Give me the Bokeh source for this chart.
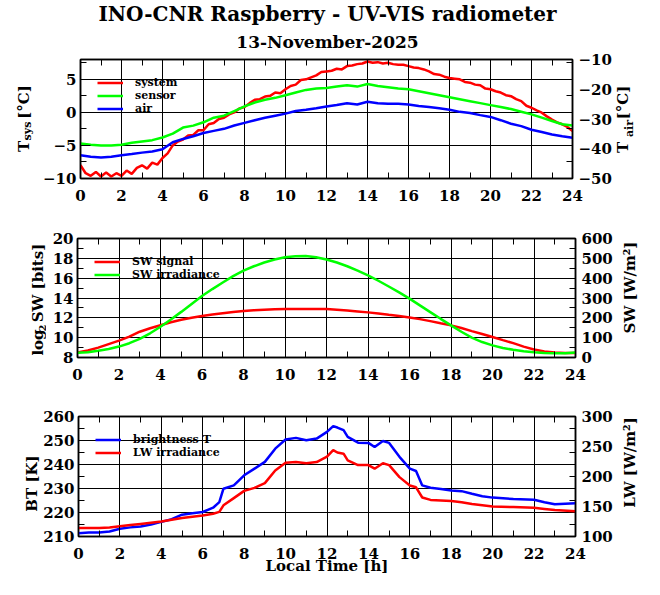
from math import pi
from bokeh.plotting import figure
from bokeh.models import Range1d, LinearAxis, FixedTicker, Label, Grid
from bokeh.layouts import column, row
from bokeh.embed import file_html
from bokeh.resources import INLINE

FONT = "DejaVu Serif"

# ---------------- data ----------------
hours_quarter = [i * 0.25 for i in range(97)]
hours_half = [i * 0.5 for i in range(49)]

t_system = [-8.0, -9.2, -9.6, -9.0, -9.7, -9.1, -9.7, -9.2, -9.6, -8.8,
            -9.3, -8.4, -8.0, -8.5, -7.6, -7.9, -6.9, -6.2, -5.0, -4.4,
            -4.1, -3.5, -3.4, -2.7, -2.7, -1.8, -1.6, -1.0, -0.8, -0.3,
            0.0, 0.6, 0.8, 1.4, 1.9, 2.0, 2.4, 2.5, 3.0, 2.9,
            3.5, 4.0, 4.2, 4.9, 5.0, 5.3, 5.6, 6.1, 6.2, 6.3,
            6.6, 6.5, 7.0, 7.1, 7.3, 7.4, 7.7, 7.5, 7.6, 7.4,
            7.5, 7.3, 7.2, 7.2, 7.0, 6.8, 6.7, 6.5, 6.2, 5.8,
            5.7, 5.4, 5.2, 5.1, 5.0, 4.6, 4.5, 4.2, 4.1, 3.6,
            3.5, 3.2, 3.0, 2.6, 2.45, 2.0, 1.7, 1.0, 0.7, 0.3,
            -0.05, -0.6, -1.1, -1.5, -1.8, -2.2, -2.8]

t_sensor = [-4.7, -4.9, -5.0, -5.0, -4.9, -4.6, -4.4, -4.2, -3.8, -3.2,
            -2.3, -2.0, -1.5, -0.8, -0.5, 0.2, 0.9, 1.5, 1.9, 2.2,
            2.6, 3.0, 3.4, 3.6, 3.7, 3.9, 4.1, 3.9, 4.3, 4.0,
            3.8, 3.6, 3.5, 3.2, 2.9, 2.6, 2.3, 2.0, 1.7, 1.4,
            1.1, 0.8, 0.5, 0.1, -0.3, -0.8, -1.3, -1.8, -2.0]

t_air = [-42.2, -42.7, -42.9, -42.7, -42.2, -41.8, -41.3, -40.9, -40.2, -37.8,
         -36.7, -35.8, -34.7, -34.0, -33.3, -32.2, -31.3, -30.4, -29.6, -28.9,
         -28.2, -27.3, -26.9, -26.4, -25.8, -25.3, -24.7, -25.1, -24.2, -24.7,
         -24.9, -24.9, -25.1, -25.6, -26.0, -26.4, -26.9, -27.6, -28.0, -28.7,
         -29.3, -30.4, -31.6, -32.4, -33.6, -34.4, -35.2, -35.8, -36.3]

sw_signal = [8.5, 8.7, 9.0, 9.35, 9.7, 10.1, 10.6, 10.95, 11.25, 11.55,
             11.8, 12.0, 12.18, 12.33, 12.47, 12.58, 12.68, 12.76, 12.82, 12.87,
             12.89, 12.9, 12.9, 12.9, 12.88, 12.82, 12.75, 12.65, 12.55, 12.43,
             12.3, 12.18, 12.04, 11.87, 11.67, 11.45, 11.24, 10.97, 10.66, 10.37,
             10.06, 9.75, 9.45, 9.1, 8.8, 8.6, 8.5, 8.45, 8.45]

sw_irradiance = [24, 27, 34, 43, 55, 72, 94, 122, 155, 192,
                 230, 270, 310, 345, 378, 410, 438, 460, 479, 494,
                 505, 511, 512, 505, 494, 479, 460, 438, 414, 387,
                 358, 328, 297, 263, 229, 195, 162, 130, 100, 78,
                 61, 48, 39, 32, 27, 23, 22, 22, 25]

hours_lw = [0, 0.5, 1, 1.5, 2, 2.5, 3, 3.5, 4, 4.5, 5, 5.5, 6, 6.5, 6.8,
            7, 7.5, 8, 8.5, 9, 9.5, 10, 10.5, 11, 11.5, 12, 12.3, 12.5, 12.8,
            13, 13.5, 14, 14.3, 14.7, 15, 15.5, 16, 16.3, 16.6,
            17, 17.5, 18, 18.5, 19, 19.5, 20, 21, 22, 22.5, 23, 24]

bright_t = [211.4, 211.7, 211.7, 212.1, 213.2, 213.8, 214.2, 215.0, 216.1, 217.2,
            219.1, 219.7, 220.2, 222.0, 224.3, 229.9, 231.3, 235.5, 238.3, 241.1,
            246.6, 250.4, 251.1, 250.1, 250.8, 253.6, 256.0, 255.4, 254.3, 251.5,
            249.1, 249.0, 247.3, 249.8, 249.0, 243.2, 238.3, 237.3, 231.3, 230.3,
            229.8, 229.2, 228.9, 227.8, 226.8, 226.2, 225.6, 225.3, 224.3, 223.4, 223.9]

lw_irradiance = [114, 114, 114, 115, 117, 119, 121, 123, 125, 128,
                 131, 133, 135, 138, 141, 152, 164, 176, 181, 189,
                 210, 223, 224, 222, 224, 233, 244, 240, 238, 227,
                 219, 219, 213, 222, 219, 199, 185, 182, 165, 161,
                 160, 159, 157, 154, 152, 150, 149, 148, 146, 144, 142]

x_ticks = [0, 2, 4, 6, 8, 10, 12, 14, 16, 18, 20, 22, 24]
x_minor = [1, 3, 5, 7, 9, 11, 13, 15, 17, 19, 21, 23]

FRAME_X0, FRAME_W = 77, 500
TOTAL_W = 657
LW = 2.5


def style_axis(ax, standoff):
    ax.axis_line_color = "black"
    ax.axis_line_width = 1.5
    ax.major_tick_in = 10
    ax.major_tick_out = 0
    ax.minor_tick_in = 6
    ax.minor_tick_out = 0
    ax.major_tick_line_color = "black"
    ax.minor_tick_line_color = "black"
    ax.major_label_text_font = FONT
    ax.major_label_text_font_style = "bold"
    ax.major_label_text_font_size = "15px"
    ax.major_label_text_color = "black"
    ax.major_label_standoff = standoff


def panel(bl, br, top, fh, bottom, ylim, yticks, yminor, rlim, rticks):
    p = figure(width=bl + FRAME_W + br, height=top + fh + bottom,
               x_range=Range1d(0, 24), y_range=Range1d(*ylim),
               output_backend="svg", toolbar_location=None,
               min_border_left=bl, min_border_right=br,
               min_border_top=top, min_border_bottom=bottom,
               x_axis_type=None, y_axis_type=None)
    p.extra_y_ranges = {"r": Range1d(*rlim)}
    p.outline_line_color = "black"
    p.outline_line_width = 1.5
    p.background_fill_color = "white"
    p.border_fill_color = "white"

    xt = FixedTicker(ticks=x_ticks, minor_ticks=x_minor)
    yt = FixedTicker(ticks=yticks, minor_ticks=yminor)
    p.add_layout(Grid(dimension=0, ticker=xt, grid_line_color="black", grid_line_width=1))
    p.add_layout(Grid(dimension=1, ticker=yt, grid_line_color="black", grid_line_width=1))

    xb = LinearAxis(ticker=xt)
    style_axis(xb, 11)
    p.add_layout(xb, "below")
    xa = LinearAxis(ticker=FixedTicker(ticks=x_ticks, minor_ticks=x_minor),
                    major_label_overrides={t: "" for t in x_ticks})
    style_axis(xa, 0)
    xa.major_label_text_font_size = "0px"
    p.add_layout(xa, "above")
    yl = LinearAxis(ticker=yt)
    style_axis(yl, 4)
    p.add_layout(yl, "left")
    scale = (rlim[1] - rlim[0]) / (ylim[1] - ylim[0])
    r_minor = [rlim[0] + (m - ylim[0]) * scale for m in yminor]
    yr = LinearAxis(y_range_name="r", ticker=FixedTicker(ticks=rticks, minor_ticks=r_minor))
    style_axis(yr, 6)
    yr.major_tick_in = 0
    p.add_layout(yr, "right")
    return p, xb


def text_fig(x0, w, top, fh, bottom, page_top, bl=0, br=0):
    """A blank figure whose data coordinates are the picture's pixel coordinates.
    Its frame has the same vertical extent as the panel frame it sits next to."""
    f = figure(width=w, height=top + fh + bottom,
               x_range=Range1d(x0 + bl, x0 + w - br),
               y_range=Range1d(page_top + fh, page_top),
               output_backend="svg", toolbar_location=None,
               min_border_left=bl, min_border_right=br,
               min_border_top=top, min_border_bottom=bottom,
               x_axis_type=None, y_axis_type=None)
    f.outline_line_color = None
    f.background_fill_color = "white"
    f.border_fill_color = "white"
    return f


def put(f, x, y, text, size, angle=0.0):
    f.add_layout(Label(x=x, y=y, text=text, angle=angle, text_font=FONT,
                       text_font_style="bold", text_font_size=f"{size}px",
                       text_color="black", text_align="center", text_baseline="middle"))


def style_legend(p):
    lg = p.legend[0]
    lg.location = "top_left"
    lg.margin = 0
    lg.padding = 17
    lg.spacing = 0
    lg.glyph_width = 26
    lg.glyph_height = 13
    lg.label_height = 13
    lg.label_standoff = 12
    lg.label_text_font = FONT
    lg.label_text_font_style = "bold"
    lg.label_text_font_size = "11px"
    lg.label_text_color = "black"
    lg.border_line_alpha = 0
    lg.background_fill_alpha = 0


V = pi / 2

# ---------------- title ----------------
title_fig = text_fig(0, TOTAL_W, 0, 52, 0, 0, bl=FRAME_X0, br=TOTAL_W - FRAME_X0 - FRAME_W)
put(title_fig, 327, 13.5, "INO-CNR Raspberry - UV-VIS radiometer", 20)
put(title_fig, 327, 41.5, "13-November-2025", 17)

# ---------------- panel 1: temperatures ----------------
top1, fh1, bot1, ptop1 = 7, 119, 30, 59
L1, R1 = 40, 37
p1, _ = panel(FRAME_X0 - L1, R1, top1, fh1, bot1, (-10, 8), [-10, -5, 0, 5],
              [-7.5, -2.5, 2.5, 7.5], (-50, -10), [-50, -40, -30, -20, -10])
p1.line(hours_quarter, t_system, color="#ff0000", line_width=LW, legend_label="system")
p1.line(hours_half, t_sensor, color="#00ff00", line_width=LW, legend_label="sensor")
p1.line(hours_half, t_air, color="#0000ff", line_width=LW, legend_label="air", y_range_name="r")
style_legend(p1)
left1 = text_fig(0, L1, top1, fh1, bot1, ptop1)
put(left1, 23, 146, "T", 15, V)
put(left1, 27, 130.5, "sys", 11, V)
put(left1, 23, 101.5, "[°C]", 15, V)
xr1 = FRAME_X0 + FRAME_W + R1
right1 = text_fig(xr1, TOTAL_W - xr1, top1, fh1, bot1, ptop1)
put(right1, 622, 147, "T", 15, V)
put(right1, 629, 128, "air", 11, V)
put(right1, 622, 102, "[°C]", 15, V)

# ---------------- panel 2: shortwave ----------------
top2, fh2, bot2, ptop2 = 30, 119, 29, 238
L2, R2 = 46, 38
p2, _ = panel(FRAME_X0 - L2, R2, top2, fh2, bot2, (8, 20), [8, 10, 12, 14, 16, 18, 20],
              [9, 11, 13, 15, 17, 19], (0, 600), [0, 100, 200, 300, 400, 500, 600])
p2.line(hours_half, sw_signal, color="#ff0000", line_width=LW, legend_label="SW signal")
p2.line(hours_half, sw_irradiance, color="#00ff00", line_width=LW,
        legend_label="SW irradiance", y_range_name="r")
style_legend(p2)
left2 = text_fig(0, L2, top2, fh2, bot2, ptop2)
put(left2, 37.5, 342, "log", 15, V)
put(left2, 41.5, 327.5, "2", 10, V)
put(left2, 37.5, 282.5, "SW [bits]", 15, V)
xr2 = FRAME_X0 + FRAME_W + R2
right2 = text_fig(xr2, TOTAL_W - xr2, top2, fh2, bot2, ptop2)
put(right2, 629, 287, "SW [W/m²]", 15, V)

# ---------------- panel 3: longwave ----------------
top3, fh3, bot3, ptop3 = 30, 120, 48, 416
L3, R3 = 40, 38
p3, xb3 = panel(FRAME_X0 - L3, R3, top3, fh3, bot3, (210, 260),
                [210, 220, 230, 240, 250, 260], [215, 225, 235, 245, 255],
                (100, 300), [100, 150, 200, 250, 300])
p3.line(hours_lw, bright_t, color="#0000ff", line_width=LW, legend_label="brightness T")
p3.line(hours_lw, lw_irradiance, color="#ff0000", line_width=LW,
        legend_label="LW irradiance", y_range_name="r")
style_legend(p3)
xb3.axis_label = "Local Time [h]"
xb3.axis_label_text_font = FONT
xb3.axis_label_text_font_style = "bold"
xb3.axis_label_text_font_size = "15px"
xb3.axis_label_text_color = "black"
xb3.axis_label_standoff = -5
left3 = text_fig(0, L3, top3, fh3, bot3, ptop3)
put(left3, 31, 483, "BT [K]", 15, V)
xr3 = FRAME_X0 + FRAME_W + R3
right3 = text_fig(xr3, TOTAL_W - xr3, top3, fh3, bot3, ptop3)
put(right3, 629, 462, "LW [W/m²]", 15, V)

layout = column(title_fig,
                row(left1, p1, right1, spacing=0),
                row(left2, p2, right2, spacing=0),
                row(left3, p3, right3, spacing=0),
                spacing=0)
open("out.html", "w").write(file_html(layout, INLINE))
